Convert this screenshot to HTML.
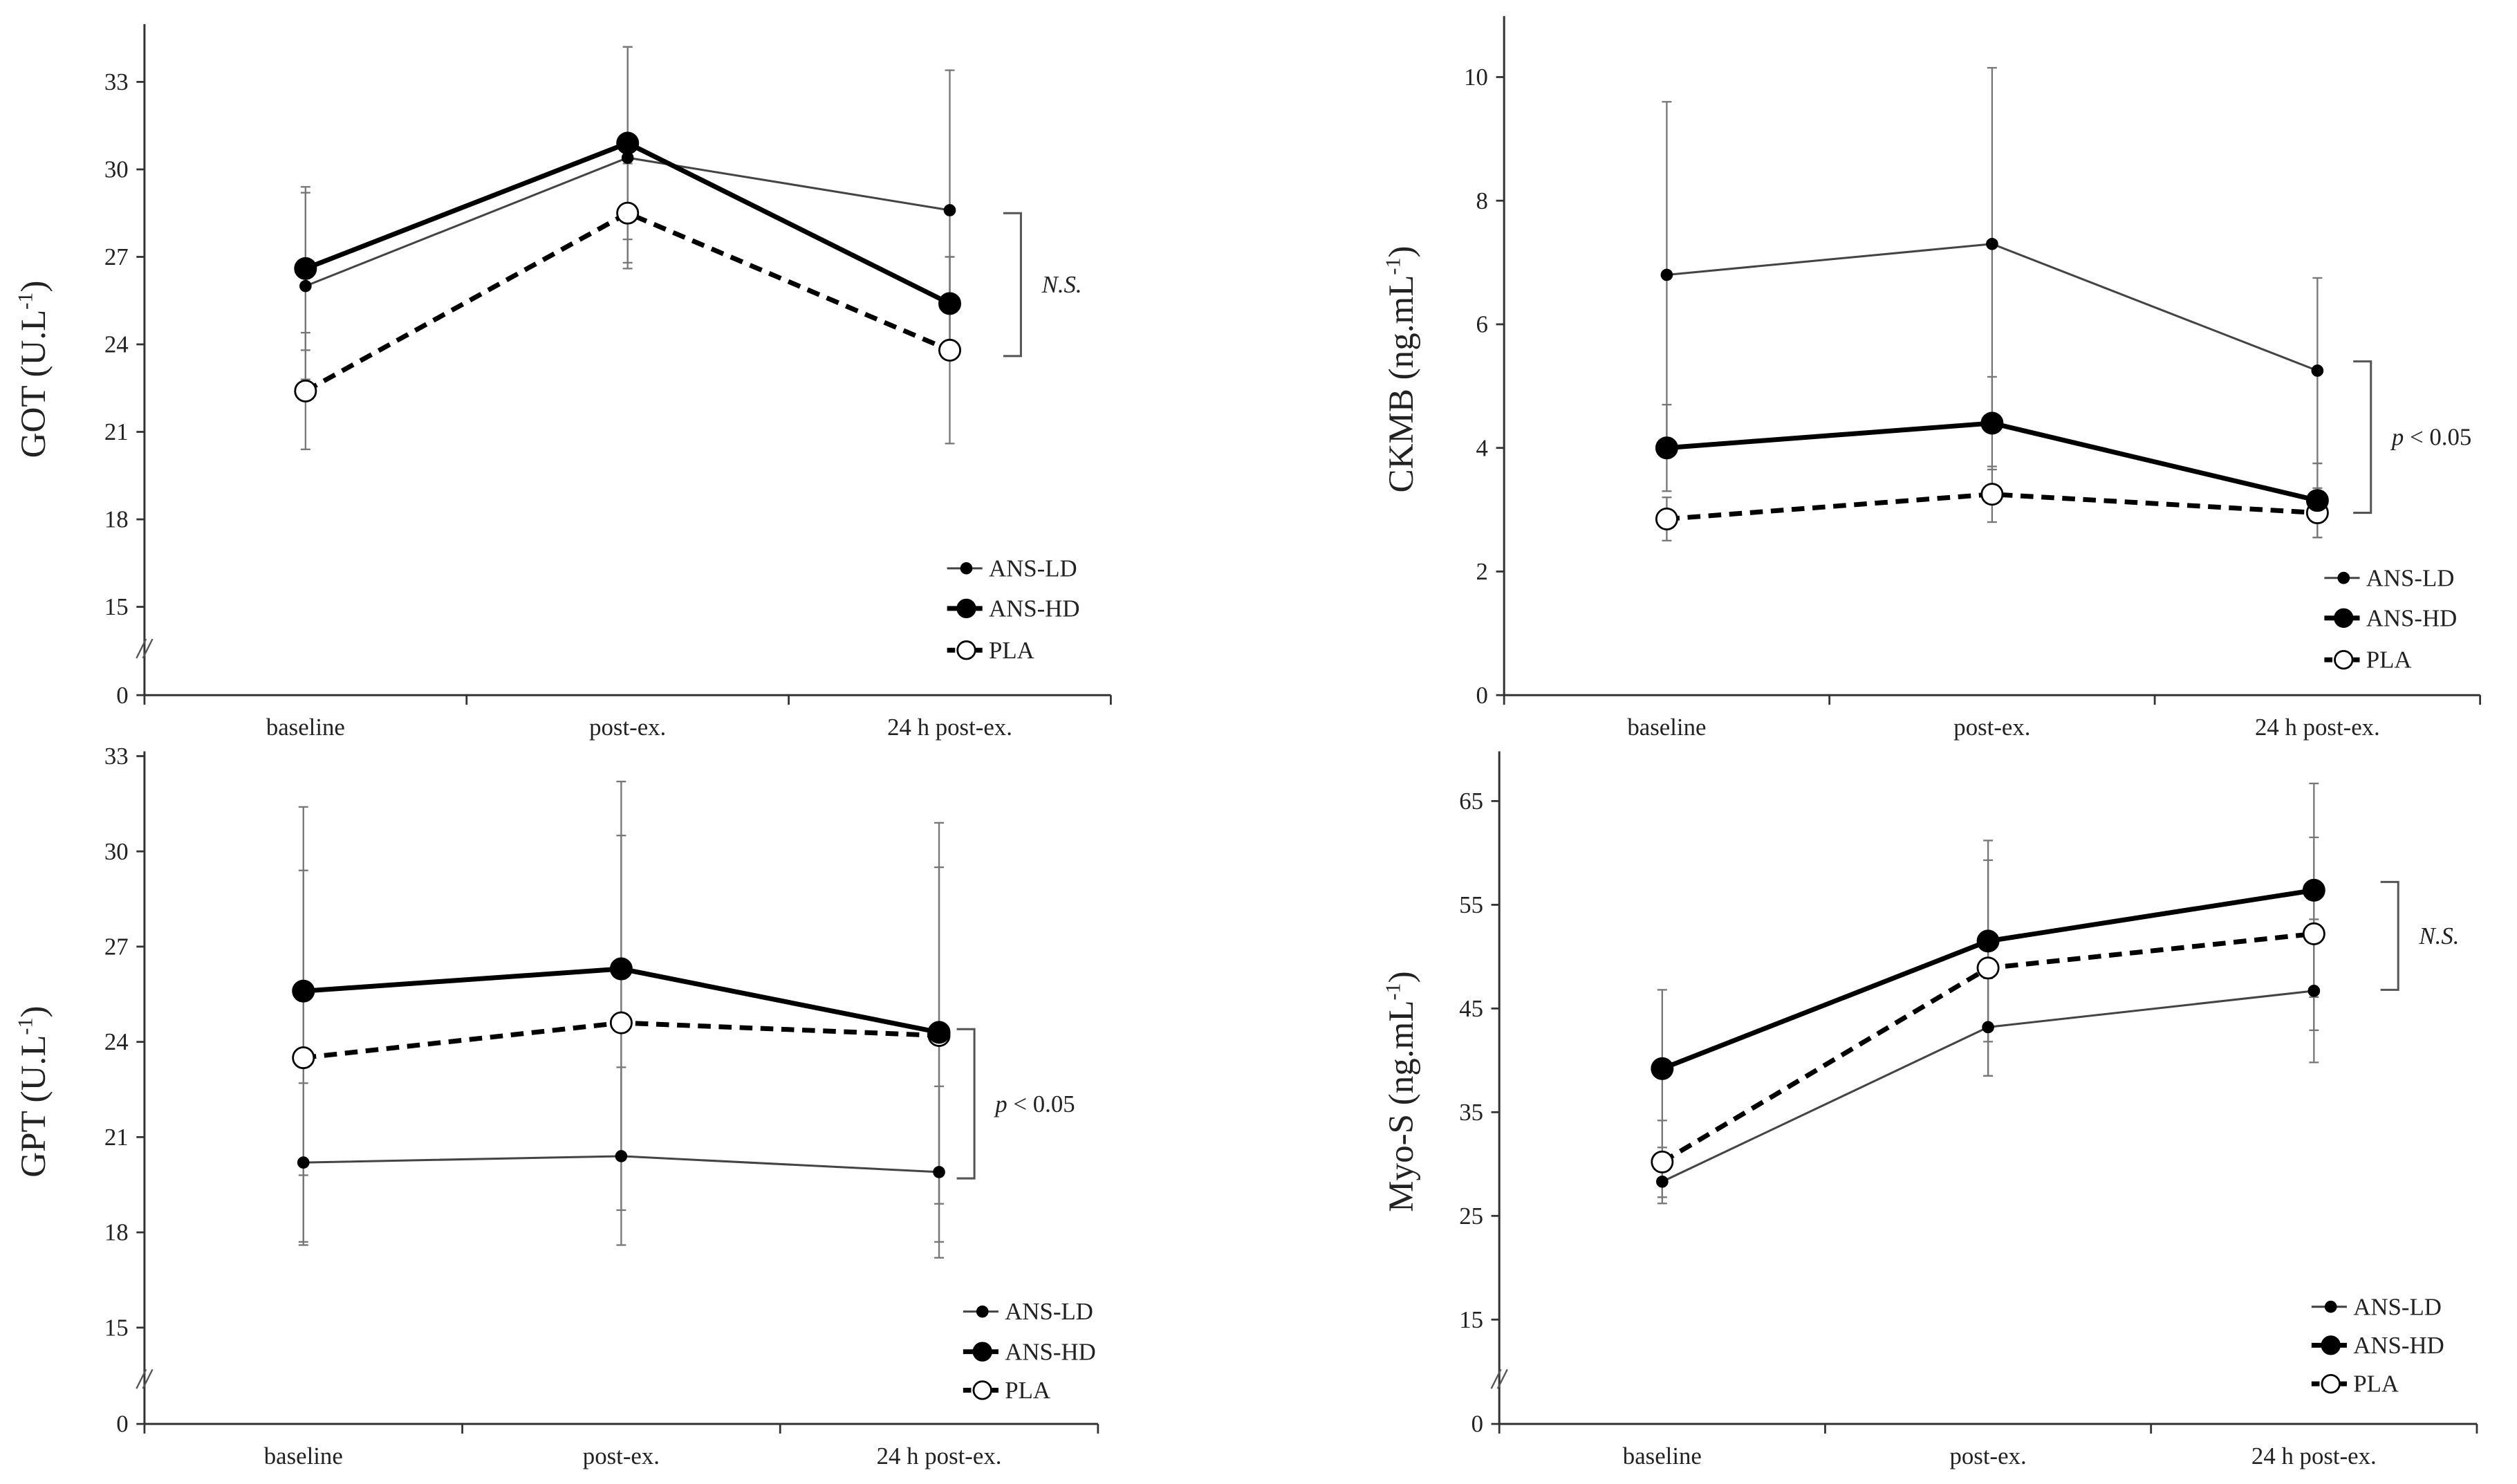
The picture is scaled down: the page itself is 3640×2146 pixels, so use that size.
<!DOCTYPE html>
<html><head><meta charset="utf-8"><style>
html,body{margin:0;padding:0;background:#fff}
svg{display:block}
text{font-family:"Liberation Serif",serif;fill:#222}
</style></head><body>
<svg id="fig" width="3640" height="2146" viewBox="0 0 1568 924.4" xmlns="http://www.w3.org/2000/svg"></svg>
<script>
const categories = ["baseline","post-ex.","24 h post-ex."];
const seriesNames = ["ANS-LD","ANS-HD","PLA"];
// GOT
const gotLD = [26.0,30.4,28.6], gotHD = [26.6,30.9,25.4], gotPLA = [22.4,28.5,23.8];
const gotLDsd = [3.2,3.8,4.8], gotHDsd = [2.8,3.3,1.6], gotPLAsd = [2.0,1.7,3.2];
const gotTicks = [0,15,18,21,24,27,30,33];
// CKMB
const ckLD = [6.8,7.3,5.25], ckHD = [4.0,4.4,3.15], ckPLA = [2.85,3.25,2.95];
const ckLDsd = [2.8,2.85,1.5], ckHDsd = [0.7,0.75,0.6], ckPLAsd = [0.35,0.45,0.4];
const ckTicks = [0,2,4,6,8,10];
// GPT
const gptLD = [20.2,20.4,19.9], gptHD = [25.6,26.3,24.3], gptPLA = [23.5,24.6,24.2];
const gptLDsd = [2.5,2.8,2.7], gptHDsd = [5.8,5.9,6.6], gptPLAsd = [5.9,5.9,5.3];
const gptTicks = [0,15,18,21,24,27,30,33];
// Myo-S
const myoLD = [28.3,43.2,46.7], myoHD = [39.2,51.5,56.4], myoPLA = [30.2,48.9,52.2];
const myoLDsd = [1.5,4.7,6.9], myoHDsd = [7.6,9.7,10.3], myoPLAsd = [4.0,10.4,9.3];
const myoTicks = [0,15,25,35,45,55,65];

const NS="http://www.w3.org/2000/svg";
const svg=document.getElementById('fig');
function mk(tag,attrs,parent){const e=document.createElementNS(NS,tag);for(const k in attrs)e.setAttribute(k,attrs[k]);(parent||svg).appendChild(e);return e;}

function panel(cfg){
  const g=mk('g',{});
  
  
  // y scale: piecewise if break
  const y=v=>{
    if(cfg.brk && v<cfg.brkMin) return cfg.y0 - (v/cfg.brkMin)*(cfg.y0-cfg.yBrkVal);
    return cfg.yBrkVal - (v-cfg.vA)*(cfg.yBrkVal-cfg.yTop)/(cfg.vB-cfg.vA);
  };
  const xs=i=>cfg.xL+(i+0.5)*(cfg.xR-cfg.xL)/3;
  // axes
  const ya=mk('line',{x1:cfg.xL,y1:cfg.axTop,x2:cfg.xL,y2:cfg.y0,stroke:'#333','stroke-width':1.3},g);
  
  
  const xa=mk('line',{x1:cfg.xL,y1:cfg.y0,x2:cfg.xR,y2:cfg.y0,stroke:'#333','stroke-width':1.3},g);
  
  
  for(let i=0;i<=3;i++){const xx=cfg.xL+i*(cfg.xR-cfg.xL)/3;mk('line',{x1:xx,y1:cfg.y0,x2:xx,y2:cfg.y0+6,stroke:'#333','stroke-width':1.2},g);}
  cfg.ticks.forEach(t=>{
    const yy=y(t);
    mk('line',{x1:cfg.xL-5,y1:yy,x2:cfg.xL,y2:yy,stroke:'#333','stroke-width':1.2},g);
    const tx=mk('text',{x:cfg.xL-10,y:yy+5,'text-anchor':'end','font-size':15},g);tx.textContent=t;
    
    
  });
  if(cfg.brk){
    const yb=cfg.brkY;
    mk('line',{x1:cfg.xL-5,y1:yb+5,x2:cfg.xL+1,y2:yb-7,stroke:'#555','stroke-width':1},g);
    mk('line',{x1:cfg.xL-1,y1:yb+5,x2:cfg.xL+5,y2:yb-7,stroke:'#555','stroke-width':1},g);
  }
  categories.forEach((c,i)=>{
    const t=mk('text',{x:xs(i),y:cfg.y0+25,'text-anchor':'middle','font-size':15},g);t.textContent=c;
    
    
  });
  const ttl=mk('text',{x:0,y:0,'text-anchor':'middle','font-size':22,transform:`translate(${cfg.titleX},${cfg.titleY}) rotate(-90)`},g);
  ttl.innerHTML=cfg.title+'<tspan font-size="13" dy="-8">-1</tspan><tspan dy="8">)</tspan>';
  
  
  // error bars
  const S=[[cfg.ld,cfg.ldsd],[cfg.hd,cfg.hdsd],[cfg.pla,cfg.plasd]];
  S.forEach(([v,sd],si)=>{
    v.forEach((val,i)=>{
      const x=xs(i),a=y(val+sd[i]),b=y(val-sd[i]);
      const eb=mk('line',{x1:x,y1:a,x2:x,y2:b,stroke:'#777','stroke-width':1},g);
      
      
      mk('line',{x1:x-3,y1:a,x2:x+3,y2:a,stroke:'#777','stroke-width':1},g);
      mk('line',{x1:x-3,y1:b,x2:x+3,y2:b,stroke:'#777','stroke-width':1},g);
    });
  });
  const styles=[{s:'#444',w:1.3,d:'',r:3.2,f:'#000'},{s:'#000',w:3,d:'',r:6.5,f:'#000'},{s:'#000',w:3,d:'8 5',r:6.5,f:'#fff'}];
  [2,0,1].forEach(si=>{
    const v=S[si][0],st=styles[si];
    const pl=mk('polyline',{points:v.map((val,i)=>xs(i)+','+y(val)).join(' '),fill:'none',stroke:st.s,'stroke-width':st.w,'stroke-dasharray':st.d},g);
    
    
    v.forEach((val,i)=>{
      const c=mk('circle',{cx:xs(i),cy:y(val),r:st.r,fill:st.f,stroke:'#000','stroke-width':1.2},g);
      
      
    });
  });
  // bracket
  const bx=cfg.brX,b1=y(cfg.brV[0]),b2=y(cfg.brV[1]);
  const br=mk('polyline',{points:`${bx-11},${b1} ${bx},${b1} ${bx},${b2} ${bx-11},${b2}`,fill:'none',stroke:'#555','stroke-width':1.3},g);
  
  
  const st=mk('text',{x:bx+13,y:(b1+b2)/2+5,'font-size':15},g);
  st.innerHTML=cfg.sig;
  
  
  // legend
  cfg.legY.forEach((ly,si)=>{
    const s=styles[si];
    const lg=mk('g',{},g);
    
    
    mk('line',{x1:cfg.legX,y1:ly,x2:cfg.legX+22,y2:ly,stroke:s.s,'stroke-width':s.w,'stroke-dasharray':si==2?'5 4':''},lg);
    mk('circle',{cx:cfg.legX+12,cy:ly,r:si==0?3.2:5.5,fill:s.f,stroke:'#000','stroke-width':1.2},lg);
    const t=mk('text',{x:cfg.legX+26,y:ly+5,'font-size':15},lg);t.textContent=seriesNames[si];
  });
}

panel({name:'got',xL:90,xR:692,y0:433,axTop:15,brk:true,brkMin:15,yBrkVal:378,vA:15,vB:33,yTop:51,brkY:405,
  ticks:gotTicks,ld:gotLD,hd:gotHD,pla:gotPLA,ldsd:gotLDsd,hdsd:gotHDsd,plasd:gotPLAsd,
  title:'GOT (U.L',titleX:28,titleY:230,brX:636,brV:[28.5,23.6],sig:'<tspan font-style="italic">N.S.</tspan>',
  legX:590,legY:[354,379,405]});
panel({name:'ckmb',xL:937,xR:1545,y0:433,axTop:10,brk:false,brkMin:0,yBrkVal:433,vA:0,vB:10,yTop:48,
  ticks:ckTicks,ld:ckLD,hd:ckHD,pla:ckPLA,ldsd:ckLDsd,hdsd:ckHDsd,plasd:ckPLAsd,
  title:'CKMB (ng.mL',titleX:880,titleY:230,brX:1477,brV:[5.4,2.95],sig:'<tspan font-style="italic">p</tspan> &lt; 0.05',
  legX:1448,legY:[360,385,411]});
panel({name:'gpt',xL:90,xR:684,y0:887,axTop:468,brk:true,brkMin:15,yBrkVal:827,vA:15,vB:33,yTop:471,brkY:860,
  ticks:gptTicks,ld:gptLD,hd:gptHD,pla:gptPLA,ldsd:gptLDsd,hdsd:gptHDsd,plasd:gptPLAsd,
  title:'GPT (U.L',titleX:28,titleY:680,brX:607,brV:[24.4,19.7],sig:'<tspan font-style="italic">p</tspan> &lt; 0.05',
  legX:600,legY:[817,842,866]});
panel({name:'myo-s',xL:934,xR:1543,y0:887,axTop:468,brk:true,brkMin:15,yBrkVal:822,vA:15,vB:65,yTop:499,brkY:860,
  ticks:myoTicks,ld:myoLD,hd:myoHD,pla:myoPLA,ldsd:myoLDsd,hdsd:myoHDsd,plasd:myoPLAsd,
  title:'Myo-S (ng.mL',titleX:880,titleY:680,brX:1494,brV:[57.2,46.8],sig:'<tspan font-style="italic">N.S.</tspan>',
  legX:1440,legY:[814,838,862]});
</script>
</body></html>
